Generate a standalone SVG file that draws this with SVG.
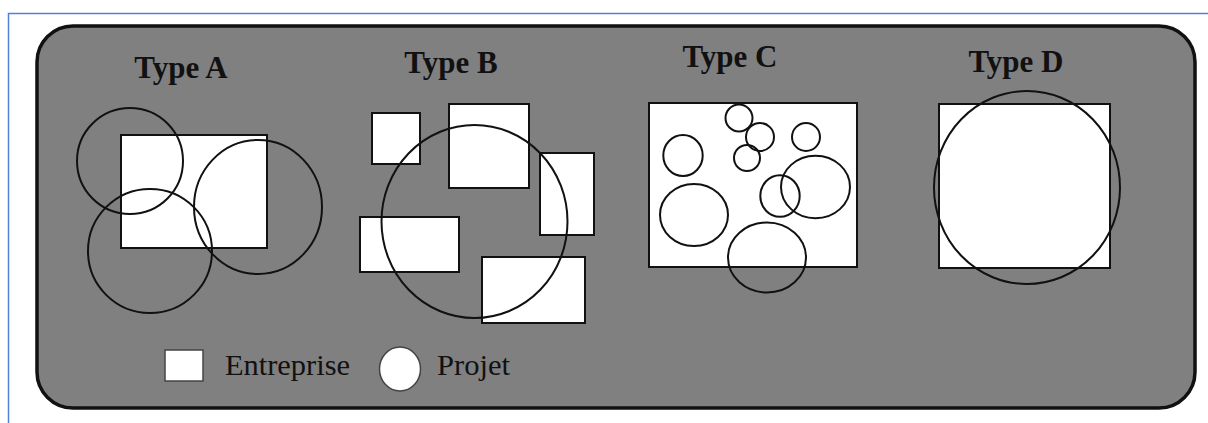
<svg xmlns="http://www.w3.org/2000/svg" width="1208" height="423" viewBox="0 0 1208 423">
<style>
.ent{fill:#fff;stroke:#111;stroke-width:2}
.prj{fill:none;stroke:#111;stroke-width:2}
.lbl{font-family:"Liberation Serif","Times New Roman",serif;font-weight:bold;font-size:31px;fill:#111;text-anchor:middle}
.leg{font-family:"Liberation Serif","Times New Roman",serif;font-size:29px;fill:#111}
</style>
<rect x="0" y="0" width="1208" height="423" fill="#fff"/>
<path d="M8.5 423 V13.5 H1208" fill="none" stroke="#4f81d9" stroke-width="1.5"/>
<g id="frame">
<rect x="37" y="26" width="1158" height="382" rx="36" ry="36" fill="#808080" stroke="#111" stroke-width="3.5"/>
</g>
<g id="typeA">
<text class="lbl" x="181" y="78">Type A</text>
<rect class="ent" x="121" y="135" width="146" height="113"/>
<circle class="prj" cx="130" cy="161" r="53"/>
<circle class="prj" cx="150" cy="251" r="62"/>
<ellipse class="prj" cx="258" cy="207" rx="64" ry="67"/>
</g>
<g id="typeB">
<text class="lbl" x="451" y="73">Type B</text>
<rect class="ent" x="372" y="113" width="48" height="51"/>
<rect class="ent" x="449" y="104" width="80" height="84"/>
<rect class="ent" x="540" y="153" width="54" height="82"/>
<rect class="ent" x="360" y="217" width="99" height="55"/>
<rect class="ent" x="482" y="257" width="103" height="66"/>
<ellipse class="prj" cx="474.5" cy="221.5" rx="93" ry="96.5"/>
</g>
<g id="typeC">
<text class="lbl" x="730" y="67">Type C</text>
<rect class="ent" x="649" y="103" width="208" height="164"/>
<circle class="prj" cx="739" cy="118" r="13.5"/>
<circle class="prj" cx="760" cy="137" r="14"/>
<circle class="prj" cx="747" cy="158" r="13"/>
<circle class="prj" cx="806" cy="137" r="14"/>
<ellipse class="prj" cx="683" cy="155.5" rx="19.7" ry="20.5"/>
<ellipse class="prj" cx="694" cy="215" rx="34" ry="31"/>
<ellipse class="prj" cx="780" cy="196" rx="19.7" ry="20.8"/>
<ellipse class="prj" cx="815.5" cy="187" rx="34.5" ry="31.3"/>
<ellipse class="prj" cx="767" cy="257.5" rx="39" ry="35"/>
</g>
<g id="typeD">
<text class="lbl" x="1016" y="72">Type D</text>
<rect class="ent" x="939" y="104" width="171" height="164"/>
<ellipse class="prj" cx="1027" cy="187.5" rx="93" ry="96.5"/>
</g>
<g id="legend">
<rect x="165" y="350" width="38" height="31" fill="#fff" stroke="#444" stroke-width="1.5"/>
<text class="leg" x="225" y="375" textLength="125" lengthAdjust="spacingAndGlyphs">Entreprise</text>
<ellipse cx="400" cy="369" rx="20.5" ry="22" fill="#fff" stroke="#444" stroke-width="1.5"/>
<text class="leg" x="437" y="375" textLength="73" lengthAdjust="spacingAndGlyphs">Projet</text>
</g>
<g id="connectors"/>
</svg>
